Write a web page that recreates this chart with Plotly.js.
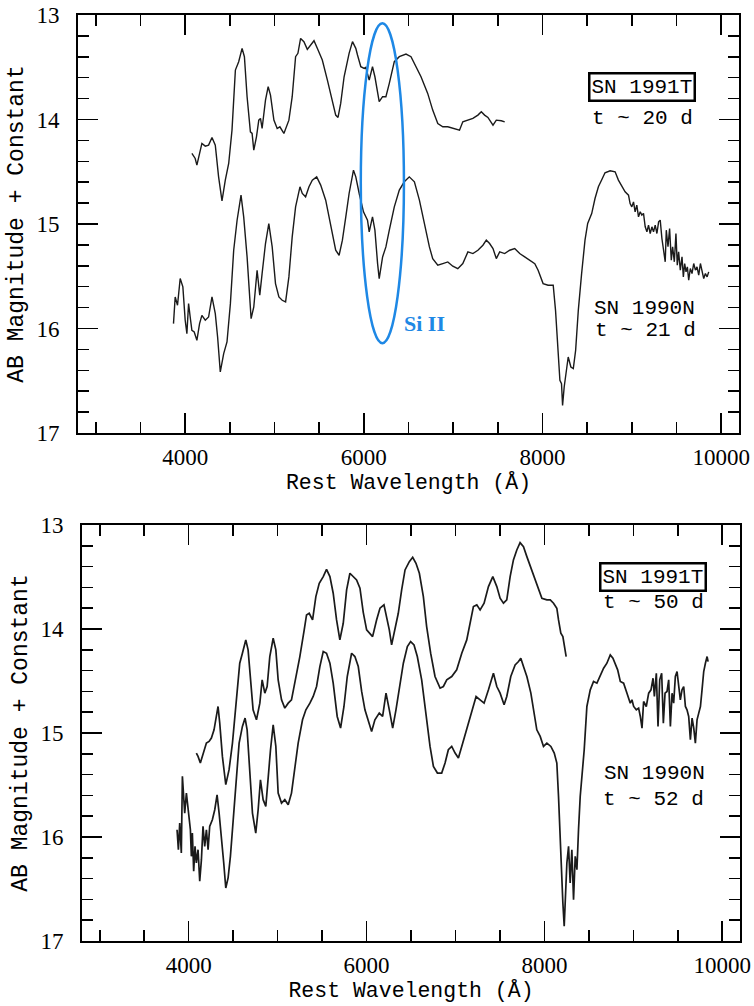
<!DOCTYPE html>
<html>
<head>
<meta charset="utf-8">
<script src="https://cdn.plot.ly/plotly-3.0.1.min.js"></script>
<style>html,body{margin:0;padding:0;background:#fff;}#chart{width:754px;height:1006px;}</style>
</head>
<body>
<div id="chart"></div>
<script>
// ---------- Data ----------
// Top panel: SN 1991T, t ~ 20 d
const t20_wave = [4075,4112,4131,4139,4169,4187,4225,4262,4300,4337,4374,4412,4449,4487,4524,4562,4599,4637,4663,4693,4730,4749,4768,4798,4824,4843,4861,4899,4929,4955,4993,5030,5060,5105,5161,5198,5236,5262,5292,5329,5367,5404,5442,5479,5535,5592,5648,5685,5711,5741,5779,5835,5873,5910,5929,5966,6004,6022,6060,6097,6124,6172,6210,6247,6285,6341,6397,6472,6528,6584,6640,6715,6771,6828,6884,6940,7015,7071,7108,7165,7221,7277,7315,7352,7389,7446,7483,7539,7577];
const t20_mag  = [14.325,14.373,14.437,14.405,14.277,14.229,14.255,14.245,14.172,14.245,14.549,14.779,14.580,14.421,14.102,13.527,13.447,13.319,13.399,13.782,14.118,14.133,14.293,14.166,14.006,13.990,14.086,13.814,13.686,13.766,14.006,14.086,14.070,14.133,14.006,13.782,13.399,13.367,13.224,13.255,13.329,13.287,13.246,13.319,13.431,13.623,13.814,13.958,13.980,13.846,13.591,13.367,13.255,13.319,13.383,13.495,13.511,13.501,13.623,13.495,13.591,13.830,13.782,13.782,13.654,13.447,13.399,13.374,13.399,13.495,13.591,13.750,13.910,14.038,14.070,14.070,14.092,14.102,14.022,14.006,13.990,13.958,13.926,13.958,13.980,14.054,14.006,14.012,14.022];

// Top panel: SN 1990N, t ~ 21 d
const n21_wave = [3869,3888,3914,3944,3974,4000,4019,4038,4056,4075,4101,4131,4161,4187,4225,4262,4300,4337,4363,4393,4431,4468,4506,4543,4581,4625,4655,4693,4738,4768,4805,4835,4861,4899,4936,4974,5011,5049,5086,5124,5161,5198,5236,5285,5311,5348,5386,5423,5472,5517,5573,5629,5685,5723,5760,5798,5835,5884,5910,5948,5996,6041,6060,6097,6124,6154,6172,6210,6247,6285,6341,6397,6453,6509,6566,6622,6678,6734,6771,6828,6884,6940,6996,7052,7108,7165,7221,7277,7333,7371,7408,7446,7483,7521,7577,7633,7689,7745,7801,7858,7914,7951,8007,8063,8120,8146,8176,8195,8213,8225,8243,8270,8288,8318,8345,8371,8401,8438,8476,8506,8551,8588,8626,8670,8700,8757,8813,
  8850,8925,8963,8981,9000,9019,9037,9056,9075,9094,9112,9131,9150,9169,9187,9206,9225,9243,9262,9281,9300,9318,9337,9356,9374,9386,9405,9423,9442,9457,9476,9494,9509,9524,9543,9562,9577,9592,9607,9622,9637,9655,9674,9693,9712,9730,9749,9768,9786,9805,9824,9843,9861];
const n21_mag  = [15.953,15.698,15.778,15.522,15.602,15.921,16.049,15.762,15.890,16.017,16.033,16.113,15.953,15.874,15.921,15.890,15.698,15.858,16.081,16.416,16.241,16.129,15.762,15.251,14.964,14.724,14.932,15.315,15.906,15.794,15.443,15.682,15.475,15.187,14.996,15.219,15.570,15.698,15.730,15.746,15.506,15.123,14.836,14.644,14.708,14.740,14.644,14.580,14.549,14.628,14.772,14.996,15.251,15.299,15.155,14.932,14.708,14.485,14.549,14.708,14.884,14.964,15.075,14.932,15.059,15.379,15.522,15.315,15.219,15.059,14.836,14.676,14.596,14.549,14.596,14.772,14.996,15.219,15.331,15.395,15.379,15.363,15.404,15.427,15.379,15.267,15.283,15.251,15.203,15.155,15.187,15.235,15.331,15.267,15.283,15.251,15.235,15.283,15.315,15.347,15.379,15.443,15.570,15.586,15.586,15.826,16.209,16.496,16.528,16.736,16.560,16.400,16.273,16.368,16.384,16.209,15.826,15.475,15.155,14.995,14.900,14.756,14.644,14.564,14.510,14.491,14.501,
  14.580,14.692,14.724,14.804,14.836,14.788,14.883,14.820,14.931,14.883,14.915,14.899,15.027,15.075,15.011,15.091,15.027,15.075,15.011,15.091,14.979,14.963,15.139,15.250,15.362,15.059,15.218,15.043,15.346,15.218,15.362,15.091,15.394,15.266,15.442,15.314,15.506,15.378,15.458,15.410,15.538,15.426,15.474,15.378,15.442,15.410,15.490,15.378,15.458,15.522,15.474,15.506,15.458];

// Bottom panel: SN 1991T, t ~ 50 d
const t50_wave = [4086,4105,4131,4154,4180,4199,4229,4255,4285,4312,4330,4349,4379,4417,4454,4492,4529,4574,4604,4642,4668,4694,4724,4762,4800,4826,4856,4882,4912,4950,4980,5006,5044,5081,5119,5156,5194,5250,5299,5325,5355,5393,5430,5468,5513,5550,5588,5625,5663,5700,5738,5776,5813,5851,5888,5926,5963,6001,6038,6068,6113,6151,6196,6226,6256,6282,6320,6357,6395,6433,6481,6519,6556,6594,6639,6676,6721,6770,6827,6864,6902,6958,7014,7071,7127,7165,7202,7240,7277,7322,7371,7420,7465,7502,7540,7577,7615,7652,7690,7727,7765,7803,7859,7915,7972,8028,8066,8103,8140,8159,8185,8208,8234,8245];
const t50_mag  = [15.193,15.225,15.289,15.225,15.129,15.097,15.081,15.049,14.969,14.841,14.745,14.905,15.225,15.497,15.353,15.097,14.713,14.329,14.233,14.105,14.201,14.457,14.777,14.873,14.713,14.489,14.617,14.553,14.265,14.089,14.201,14.489,14.681,14.761,14.713,14.681,14.521,14.265,14.009,13.865,13.849,13.913,13.688,13.560,13.496,13.426,13.496,13.656,13.913,14.105,13.945,13.624,13.464,13.496,13.528,13.608,13.840,14.009,14.041,14.073,13.913,13.800,13.768,13.881,14.009,14.153,14.009,13.849,13.624,13.432,13.352,13.311,13.368,13.464,13.688,13.977,14.233,14.457,14.569,14.553,14.489,14.457,14.393,14.233,14.105,13.945,13.784,13.768,13.816,13.752,13.592,13.496,13.592,13.704,13.752,13.720,13.496,13.336,13.240,13.170,13.208,13.304,13.432,13.560,13.704,13.720,13.720,13.752,13.800,13.913,14.041,14.073,14.185,14.265];

// Bottom panel: SN 1990N, t ~ 52 d
const n52_wave = [3869,3884,3899,3917,3929,3944,3955,3974,3993,4019,4030,4041,4056,4071,4086,4105,4124,4143,4161,4180,4199,4218,4236,4266,4293,4319,4342,4368,4394,4417,4443,4469,4499,4529,4567,4604,4634,4657,4687,4717,4754,4781,4807,4837,4867,4893,4920,4950,4980,5006,5044,5081,5119,5156,5194,5231,5280,5318,5363,5400,5438,5475,5513,5550,5588,5625,5670,5708,5746,5783,5832,5869,5907,5945,5982,6020,6057,6094,6143,6181,6219,6256,6294,6331,6369,6414,6459,6496,6534,6571,6620,6669,6714,6752,6797,6845,6883,6920,6958,6996,7033,7082,7127,7183,7232,7277,7322,7371,7427,7465,7502,7547,7577,7622,7671,7709,7735,7765,7803,7848,7885,7915,7953,7990,8028,8073,8111,8140,8159,8178,8193,8208,8223,8238,8253,8272,8290,8309,8328,8347,8366,8384,8403,
  8448,8478,8516,8553,8591,8621,8647,8666,8703,8741,8771,8797,8824,8854,8891,8929,8948,8966,8985,9004,9034,9060,9079,9098,9116,9146,9173,9199,9222,9237,9259,9278,9297,9319,9338,9357,9379,9398,9417,9436,9454,9473,9492,9511,9529,9548,9567,9586,9604,9623,9642,9661,9680,9698,9717,9736,9755,9773,9792,9811,9830,9841];
const n52_mag  = [15.930,16.122,15.866,16.154,15.417,15.609,15.770,15.578,15.706,15.930,16.186,15.962,16.330,16.090,16.250,16.122,16.426,16.218,15.898,16.090,15.930,16.122,15.898,15.834,15.738,15.594,15.770,15.994,16.250,16.490,16.394,16.186,15.866,15.481,15.097,14.937,14.857,14.969,15.353,15.770,15.962,15.738,15.450,15.641,15.706,15.417,15.161,14.921,15.129,15.578,15.674,15.641,15.690,15.578,15.321,15.097,14.873,14.777,14.713,14.649,14.553,14.361,14.217,14.233,14.329,14.521,14.841,14.953,14.745,14.457,14.233,14.265,14.361,14.600,14.777,14.889,14.985,14.873,14.809,14.841,14.617,14.777,14.953,14.777,14.553,14.329,14.169,14.121,14.153,14.265,14.489,14.809,15.129,15.321,15.385,15.385,15.289,15.161,15.129,15.193,15.241,15.097,14.969,14.809,14.649,14.681,14.713,14.585,14.425,14.553,14.617,14.729,14.649,14.457,14.345,14.313,14.281,14.361,14.457,14.617,14.809,14.969,15.033,15.129,15.097,15.129,15.193,15.289,15.610,16.090,16.346,16.634,16.858,16.570,16.250,16.090,16.442,16.122,16.602,16.186,16.314,15.930,15.610,
  15.161,14.745,14.585,14.505,14.521,14.457,14.409,14.377,14.329,14.249,14.281,14.329,14.393,14.505,14.521,14.617,14.665,14.713,14.681,14.745,14.777,14.761,14.841,14.953,14.697,14.745,14.617,14.585,14.473,14.649,14.425,14.937,14.489,14.425,14.905,14.617,14.601,14.489,14.937,14.617,14.713,14.457,14.409,14.553,14.681,14.585,14.553,14.745,14.777,14.841,15.065,14.857,14.953,15.097,14.873,14.809,14.745,14.585,14.409,14.329,14.265,14.313];

// Tick labels
const xTickVals = [4000, 6000, 8000, 10000];
const xTickText = ["4000", "6000", "8000", "10000"];
const yTickVals = [13, 14, 15, 16, 17];
const yTickText = ["13", "14", "15", "16", "17"];

// ---------- Styling ----------
const W = 754, H = 1006;
const lineTop = {color: '#1a1a1a', width: 1.4};
const lineBot = {color: '#1a1a1a', width: 1.7};
const monoFont = "'Liberation Mono', 'DejaVu Sans Mono', monospace";
const serifFont = "'Liberation Serif', 'DejaVu Serif', serif";

const traces = [
  {x: t20_wave, y: t20_mag, xaxis: 'x', yaxis: 'y', mode: 'lines', line: lineTop, name: 'SN 1991T t~20 d'},
  {x: n21_wave, y: n21_mag, xaxis: 'x', yaxis: 'y', mode: 'lines', line: lineTop, name: 'SN 1990N t~21 d'},
  {x: t50_wave, y: t50_mag, xaxis: 'x2', yaxis: 'y2', mode: 'lines', line: lineBot, name: 'SN 1991T t~50 d'},
  {x: n52_wave, y: n52_mag, xaxis: 'x2', yaxis: 'y2', mode: 'lines', line: lineBot, name: 'SN 1990N t~52 d'}
];

function xAxis(domain, anchor) {
  return {
    domain: domain, anchor: anchor, range: [2800, 10200],
    tickvals: xTickVals, ticktext: xTickText,
    ticks: 'inside', ticklen: 20, tickwidth: 1.5, tickcolor: '#000',
    minor: {ticks: 'inside', ticklen: 11, tickwidth: 1.5, tickcolor: '#000', dtick: 500, tick0: 0, showgrid: false},
    showline: true, linewidth: 2, linecolor: '#000', mirror: 'ticks',
    showgrid: false, zeroline: false,
    tickfont: {family: serifFont, size: 23, color: '#000'},
    ticklabelstandoff: 2,
    title: {text: 'Rest Wavelength (Å)', font: {family: monoFont, size: 21.5, color: '#000'}, standoff: 5}
  };
}
function yAxis(domain, anchor) {
  return {
    domain: domain, anchor: anchor, range: [17, 13],
    tickvals: yTickVals, ticktext: yTickText,
    ticks: 'inside', ticklen: 20, tickwidth: 1.5, tickcolor: '#000',
    minor: {ticks: 'inside', ticklen: 11, tickwidth: 1.5, tickcolor: '#000', dtick: 0.2, tick0: 13, showgrid: false},
    showline: true, linewidth: 2, linecolor: '#000', mirror: 'ticks',
    showgrid: false, zeroline: false,
    tickfont: {family: serifFont, size: 23, color: '#000'},
    ticklabelstandoff: 12,
    title: {text: 'AB Magnitude + Constant', font: {family: monoFont, size: 23, color: '#000'}, standoff: 6}
  };
}

const labelFont = {family: monoFont, size: 21, color: '#000'};
function lab(text, x, y, boxed) {
  const a = {text: text, xref: 'paper', yref: 'paper', x: x / W, y: 1 - y / H,
    xanchor: 'center', yanchor: 'middle', showarrow: false, font: labelFont};
  if (boxed) { a.bordercolor = '#000'; a.borderwidth = 2.5; a.borderpad = 1; }
  return a;
}

const layout = {
  width: W, height: H,
  margin: {l: 0, r: 0, t: 0, b: 0},
  paper_bgcolor: '#fff', plot_bgcolor: '#fff',
  showlegend: false,
  xaxis: xAxis([78 / W, 739 / W], 'y'),
  yaxis: yAxis([1 - 433 / H, 1 - 15 / H], 'x'),
  xaxis2: xAxis([82 / W, 740 / W], 'y2'),
  yaxis2: yAxis([1 - 941 / H, 1 - 525 / H], 'x2'),
  shapes: [
    {type: 'circle', xref: 'x', yref: 'y', x0: 5966, x1: 6449, y0: 13.08, y1: 16.14,
     line: {color: '#1e88e5', width: 2.5}, fillcolor: 'rgba(0,0,0,0)'}
  ],
  annotations: [
    lab('SN 1991T', 642, 87, true),
    lab('t ~ 20 d', 642, 118, false),
    lab('SN 1990N', 644, 308, false),
    lab('t ~ 21 d', 645, 330, false),
    lab('SN 1991T', 653, 577, true),
    lab('t ~ 50 d', 653, 602, false),
    lab('SN 1990N', 654, 773, false),
    lab('t ~ 52 d', 653, 799, false),
    {text: '<b>Si II</b>', xref: 'x', yref: 'y', x: 6674, y: 15.95, xanchor: 'center', yanchor: 'middle',
     showarrow: false, font: {family: serifFont, size: 22, color: '#1e88e5'}}
  ]
};

Plotly.newPlot('chart', traces, layout, {displayModeBar: false, staticPlot: true});
</script>
</body>
</html>
